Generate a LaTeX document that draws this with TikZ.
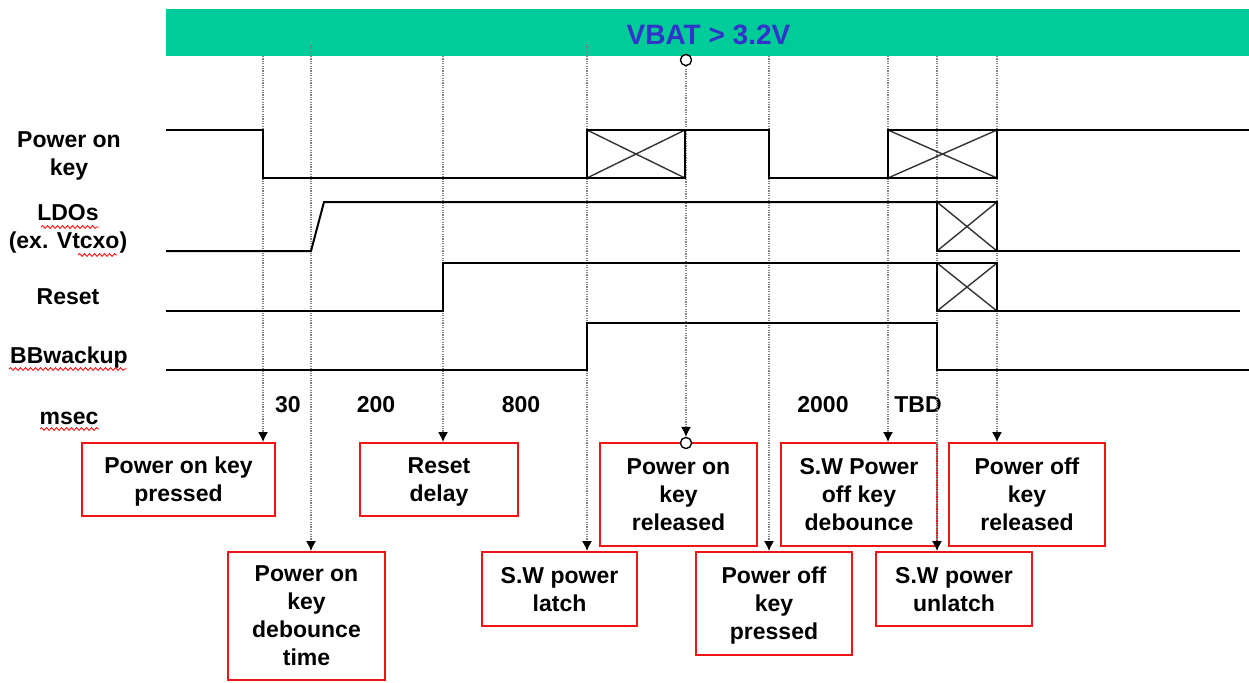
\documentclass[tikz,border=0pt]{standalone}
\usepackage{fontspec}
\setmainfont{Liberation Sans}
\usetikzlibrary{arrows.meta,decorations.pathmorphing}
\definecolor{barg}{RGB}{0,204,153}
\definecolor{vblue}{RGB}{51,51,204}
\definecolor{boxred}{RGB}{240,20,20}
\begin{document}
\begin{tikzpicture}[x=0.5pt,y=-0.5pt,
  every node/.style={font=\fontsize{11.5pt}{14pt}\selectfont\bfseries, inner sep=0pt},
  sig/.style={line width=1pt, black, line join=miter},
  xbox/.style={line width=0.9pt, black},
  xdiag/.style={line width=0.7pt, black!80},
  dline/.style={gray, line width=0.6pt, dash pattern=on 0.6pt off 0.6pt, -{Latex[length=5pt,width=5pt,color=black]}},
  rbox/.style n args={2}{draw=boxred, line width=1pt, align=center, inner sep=0pt, text depth=0pt,
     minimum width=#1*0.5pt, minimum height=#2*0.5pt},
  lab/.style={align=center},
  circ/.style={circle, draw, fill=white, line width=0.6pt, minimum size=5.5pt, inner sep=0pt},
  spell/.style={red, line width=0.4pt, decorate, decoration={snake, amplitude=0.7pt, segment length=2.5pt}}
]
\useasboundingbox (0,0) rectangle (1249,682);

% VBAT bar
\fill[barg] (166,9) rectangle (1249,56);
\node[font=\fontsize{14pt}{17pt}\selectfont\bfseries, text=vblue, anchor=base] (vbat) at (708.5,44) {VBAT > 3.2V};

% left labels
\node[lab] (lpk) at (69,156) {Power on\\key};
\node[lab] (lldo) at (68,229) {LDOs\\(ex. Vtcxo)};
\node[lab] (lrst) at (68,297) {Reset};
\node[lab] (lbb) at (69,358) {BBwackup};
\node[anchor=base] (lms) at (69,424) {msec};
\draw[spell] (41,227) -- (99,227);
\draw[spell] (78,255) -- (117,255);
\draw[spell] (9,369) -- (127,369);
\draw[spell] (40,429) -- (99,429);

% timing numbers
\node[anchor=base] (n30) at (288,412) {30};
\node[anchor=base] (n200) at (376,412) {200};
\node[anchor=base] (n800) at (521,412) {800};
\node[anchor=base] (n2000) at (823,412) {2000};
\node[anchor=base] (ntbd) at (918,412) {TBD};

% event boxes
\node[rbox={193}{73}] (A) at (178.5,479.5) {Power on key\\pressed};
\node[rbox={157}{128}] (B) at (306.5,616) {Power on\\key\\debounce\\time};
\node[rbox={158}{73}] (C) at (439,479.5) {Reset\\delay};
\node[rbox={155}{74}] (D) at (559.5,589) {S.W power\\latch};
\node[rbox={157}{103}] (E) at (678.5,494.5) {Power on\\key\\released};
\node[rbox={156}{103}] (F) at (774,603.5) {Power off\\key\\pressed};
\node[rbox={156}{103}] (G) at (859,494.5) {S.W Power\\off key\\debounce};
\node[rbox={156}{103}] (H) at (1027,494.5) {Power off\\key\\released};
\node[rbox={156}{74}] (I) at (954,589) {S.W power\\unlatch};

% dotted markers
\coordinate (t1) at (263,56);
\coordinate (t2) at (311,44);
\coordinate (t3) at (443,56);
\coordinate (t4) at (587,44);
\coordinate (t6) at (769,56);
\coordinate (t7) at (888,56);
\coordinate (t8) at (937,56);
\coordinate (t9) at (997,56);
\node[circ] (c1) at (686,60) {};
\node[circ] (c2) at (686,443) {};
\draw[dline] (t1) -- (t1 |- A.north);
\draw[dline] (t2) -- (t2 |- B.north);
\draw[dline] (t3) -- (t3 |- C.north);
\draw[dline] (t4) -- (t4 |- D.north);
\draw[dline] (c1) -- (c2);
\draw[dline] (t6) -- (t6 |- F.north);
\draw[dline] (t7) -- (t7 |- G.north);
\draw[dline] (t8) -- (t8 |- I.north);
\draw[dline] (t9) -- (t9 |- H.north);

% Power on key
\draw[sig] (166,130) -- (263,130) -- (263,178) -- (587,178);
\draw[sig] (685,130) -- (769,130) -- (769,178) -- (888,178);
\draw[sig] (997,130) -- (1249,130);
\draw[xdiag] (587,130) -- (685,178) (587,178) -- (685,130);
\draw[xbox] (587,130) rectangle (685,178);
\draw[xdiag] (888,130) -- (997,178) (888,178) -- (997,130);
\draw[xbox] (888,130) rectangle (997,178);

% LDOs
\draw[sig] (166,251) -- (311,251) -- (324,202) -- (937,202);
\draw[sig] (997,251) -- (1240,251);
\draw[xdiag] (937,202) -- (997,251) (937,251) -- (997,202);
\draw[xbox] (937,202) rectangle (997,251);

% Reset
\draw[sig] (166,311) -- (443,311) -- (443,263) -- (937,263);
\draw[sig] (997,311) -- (1240,311);
\draw[xdiag] (937,263) -- (997,311) (937,311) -- (997,263);
\draw[xbox] (937,263) rectangle (997,311);

% BBwackup
\draw[sig] (166,370) -- (587,370) -- (587,323) -- (937,323) -- (937,370) -- (1249,370);

% circles on top
\node[circ] at (c1) {};
\node[circ] at (c2) {};
\end{tikzpicture}
\end{document}
